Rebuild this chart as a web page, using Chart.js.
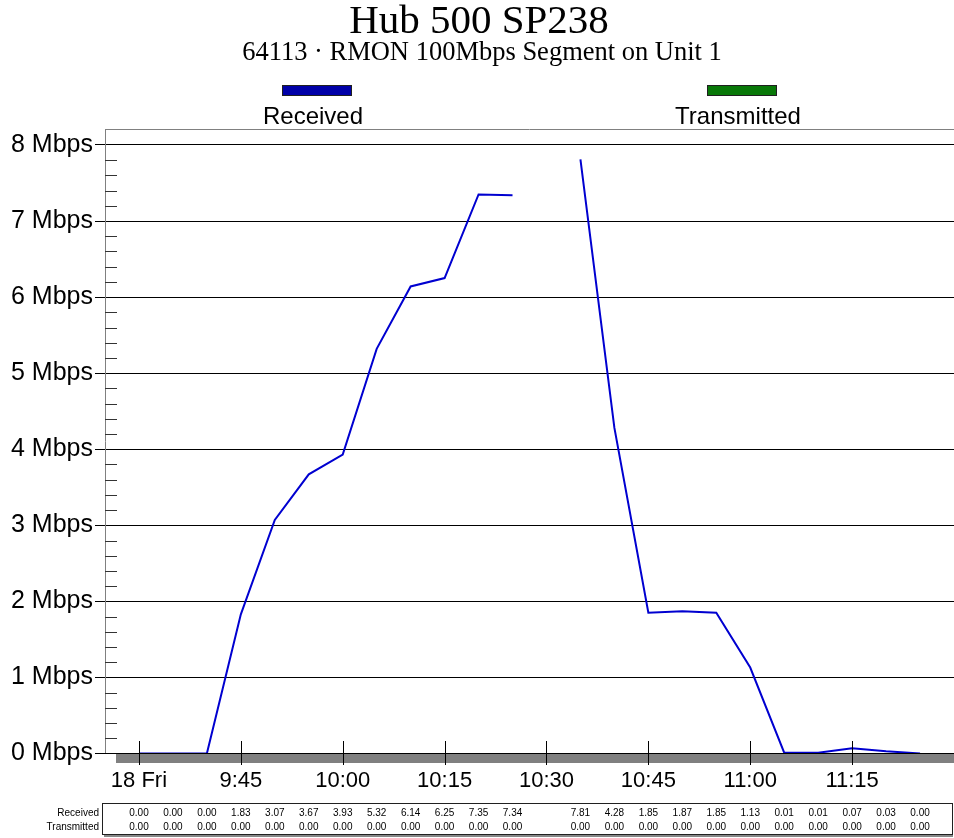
<!DOCTYPE html>
<html>
<head>
<meta charset="utf-8">
<title>Hub 500 SP238</title>
<script src="https://cdn.jsdelivr.net/npm/chart.js@4.4.0/dist/chart.umd.min.js"></script>
<style>
    body { margin: 0; background: #fff; }
    #wrap { width: 954px; height: 838px; }
</style>
</head>
<body>
<div id="wrap"><canvas id="trafficChart" width="954" height="838"></canvas></div>
<script>
// Data (5 minute samples, Mbps)
const times = ['9:30', '9:35', '9:40', '9:45', '9:50', '9:55', '10:00', '10:05', '10:10', '10:15', '10:20', '10:25',
               '10:30', '10:35', '10:40', '10:45', '10:50', '10:55', '11:00', '11:05', '11:10', '11:15', '11:20', '11:25'];
const received = [0.00, 0.00, 0.00, 1.83, 3.07, 3.67, 3.93, 5.32, 6.14, 6.25, 7.35, 7.34,
                  null, 7.81, 4.28, 1.85, 1.87, 1.85, 1.13, 0.01, 0.01, 0.07, 0.03, 0.00];
const transmitted = [0.00, 0.00, 0.00, 0.00, 0.00, 0.00, 0.00, 0.00, 0.00, 0.00, 0.00, 0.00,
                     null, 0.00, 0.00, 0.00, 0.00, 0.00, 0.00, 0.00, 0.00, 0.00, 0.00, 0.00];
const tickTimes = ['9:30', '9:45', '10:00', '10:15', '10:30', '10:45', '11:00', '11:15'];
const tickLabels = ['18 Fri', '9:45', '10:00', '10:15', '10:30', '10:45', '11:00', '11:15'];
const yTicks = [0, 1, 2, 3, 4, 5, 6, 7, 8];

const seriesNames = ['Received', 'Transmitted'];
const seriesColors = ['#0000d0', '#007a00'];
const legendColors = ['#0000a8', '#087808'];

// minutes after 9:30
function toMin(t) {
    const [h, m] = t.split(':').map(Number);
    return h * 60 + m - 570;
}
const xs = times.map(toMin);
const tickMins = tickTimes.map(toMin);

const SANS = '"Liberation Sans", Arial, sans-serif';
const SERIF = '"Liberation Serif", "Times New Roman", serif';

const decor = {
    id: 'decor',
    afterDatasetsDraw(chart) {
        const ctx = chart.ctx;
        const area = chart.chartArea;
        const x = chart.scales.x;
        const y = chart.scales.y;
        const base = Math.floor(area.bottom);
        ctx.save();

        // grey band under the time axis
        ctx.fillStyle = '#808080';
        ctx.fillRect(116, base + 1, area.right - 116, 9);

        // axis baseline (hides the flat transmitted trace like the original)
        ctx.strokeStyle = '#000';
        ctx.lineWidth = 1;
        ctx.beginPath();
        ctx.moveTo(area.left, base + 0.5);
        ctx.lineTo(area.right, base + 0.5);
        ctx.stroke();

        // time tick marks crossing the axis
        tickMins.forEach(v => {
            const px = Math.round(x.getPixelForValue(v)) + 0.5;
            ctx.beginPath();
            ctx.moveTo(px, base - 12);
            ctx.lineTo(px, base + 12);
            ctx.stroke();
        });

        // minor ticks on the value axis
        ctx.strokeStyle = '#333';
        for (let i = 0; i < 40; i++) {
            if (i % 5 === 0) continue;
            const py = Math.round(y.getPixelForValue(i / 5)) + 0.5;
            ctx.beginPath();
            ctx.moveTo(area.left, py);
            ctx.lineTo(area.left + 12, py);
            ctx.stroke();
        }

        // frame top
        ctx.strokeStyle = '#808080';
        ctx.beginPath();
        ctx.moveTo(area.left, Math.floor(area.top) + 0.5);
        ctx.lineTo(area.right, Math.floor(area.top) + 0.5);
        ctx.stroke();

        // title
        ctx.fillStyle = '#000';
        ctx.textAlign = 'center';
        ctx.textBaseline = 'alphabetic';
        ctx.font = '41px ' + SERIF;
        ctx.fillText('Hub 500 SP238', 479, 33);
        ctx.font = '26.5px ' + SERIF;
        ctx.fillText('64113 \u00b7 RMON 100Mbps Segment on Unit 1', 482, 60);

        // legend: swatch above the name
        const legendX = [317, 742];
        seriesNames.forEach((name, i) => {
            ctx.fillStyle = legendColors[i];
            ctx.fillRect(legendX[i] - 35, 85, 70, 11);
            ctx.strokeStyle = '#202020';
            ctx.strokeRect(legendX[i] - 34.5, 85.5, 69, 10);
            ctx.fillStyle = '#000';
            ctx.font = '24px ' + SANS;
            ctx.fillText(name, legendX[i] - 4, 124);
        });

        // data table
        ctx.fillStyle = '#fff';
        ctx.fillRect(102, 803, 850, 32);
        ctx.strokeStyle = '#202020';
        ctx.strokeRect(102.5, 803.5, 850, 31);
        ctx.fillStyle = '#888';
        ctx.fillRect(104, 835, 849, 2);

        ctx.font = '10px ' + SANS;
        ctx.fillStyle = '#000';
        ctx.textAlign = 'right';
        ctx.fillText('Received', 99, 816);
        ctx.fillText('Transmitted', 99, 830);
        ctx.textAlign = 'center';
        [received, transmitted].forEach((vals, r) => {
            vals.forEach((v, i) => {
                if (v === null) return;
                ctx.fillText(v.toFixed(2), x.getPixelForValue(xs[i]), 816 + r * 14);
            });
        });

        ctx.restore();
    }
};

new Chart(document.getElementById('trafficChart'), {
    type: 'line',
    data: {
        datasets: [
            {
                label: seriesNames[0],
                data: xs.map((v, i) => ({ x: v, y: received[i] })),
                borderColor: seriesColors[0],
                borderWidth: 2,
                pointRadius: 0,
                tension: 0,
                spanGaps: false
            },
            {
                label: seriesNames[1],
                data: xs.map((v, i) => ({ x: v, y: transmitted[i] })),
                borderColor: seriesColors[1],
                borderWidth: 1,
                pointRadius: 0,
                tension: 0,
                spanGaps: false
            }
        ]
    },
    options: {
        responsive: false,
        animation: false,
        layout: { padding: { top: 129, left: 0, right: 0, bottom: 0 } },
        plugins: {
            legend: { display: false },
            tooltip: { enabled: false }
        },
        scales: {
            x: {
                type: 'linear',
                min: -5,
                max: 120,
                afterBuildTicks: s => { s.ticks = tickMins.map(v => ({ value: v })); },
                afterFit: s => { s.height = 84.5; },
                grid: { drawOnChartArea: false, color: 'rgba(0,0,0,0)', tickLength: 12 },
                border: { color: '#000', width: 1 },
                ticks: {
                    autoSkip: false,
                    maxRotation: 0,
                    padding: 2,
                    color: '#000',
                    font: { family: SANS, size: 22 },
                    callback: v => tickLabels[tickMins.indexOf(v)]
                }
            },
            y: {
                min: 0,
                max: 8.21,
                afterBuildTicks: s => { s.ticks = yTicks.map(v => ({ value: v })); },
                afterFit: s => { s.width = 105; },
                grid: { color: '#000', tickLength: 10 },
                border: { color: '#808080', width: 1 },
                ticks: {
                    padding: 2,
                    color: '#000',
                    font: { family: SANS, size: 25 },
                    callback: v => v + ' Mbps'
                }
            }
        }
    },
    plugins: [decor]
});
</script>
</body>
</html>
